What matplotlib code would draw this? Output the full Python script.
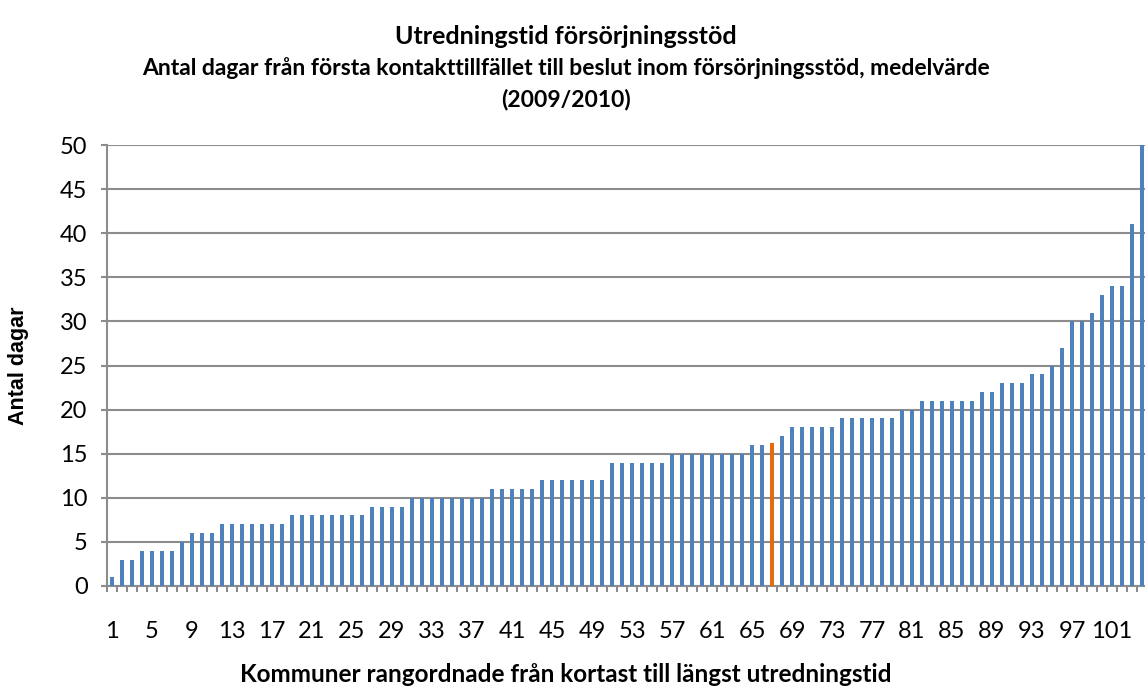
import matplotlib.pyplot as plt
from matplotlib.ticker import MultipleLocator

plt.rcParams['font.family'] = ['Lato', 'DejaVu Sans']

# days per municipality, ranked (last bar runs off the top of the axis)
days = [1, 3, 3, 4, 4, 4, 4, 5, 6, 6,
        6, 7, 7, 7, 7, 7, 7, 7, 8, 8,
        8, 8, 8, 8, 8, 8, 9, 9, 9, 9,
        10, 10, 10, 10, 10, 10, 10, 10, 11, 11,
        11, 11, 11, 12, 12, 12, 12, 12, 12, 12,
        14, 14, 14, 14, 14, 14, 15, 15, 15, 15,
        15, 15, 15, 15, 16, 16, 16.2, 17, 18, 18,
        18, 18, 18, 19, 19, 19, 19, 19, 19, 20,
        20, 21, 21, 21, 21, 21, 21, 22, 22, 23,
        23, 23, 24, 24, 25, 27, 30, 30, 31, 33,
        34, 34, 41, 55]
highlight = 67
tick_labels = list(range(1, 102, 4))

blue = '#4F81BD'
orange = '#E46C0A'

ranks = list(range(1, len(days) + 1))
colors = [orange if r == highlight else blue for r in ranks]

fig = plt.figure(figsize=(11.45, 6.93), dpi=100)
ax = fig.add_axes([107 / 1145, 107 / 693, 1 - 107 / 1145, (586 - 145) / 693])

ax.bar(ranks, days, width=0.42, color=colors, zorder=3)

ax.set_ylim(0, 50)
ax.set_xlim(0.5, 104.3)
ax.yaxis.set_major_locator(MultipleLocator(5))
ax.grid(axis='y', color='#8c8c8c', linewidth=1.5, zorder=0)

ax.set_xticks(tick_labels)
ax.set_xticklabels([str(t) for t in tick_labels])
ax.xaxis.set_minor_locator(MultipleLocator(1, offset=0.5))
ax.tick_params(axis='x', which='major', length=0, pad=25, labelsize=17)
ax.tick_params(axis='x', which='minor', length=4.5, width=1.5, color='#8c8c8c')
ax.tick_params(axis='y', length=4, width=1.5, color='#8c8c8c', pad=10, labelsize=17)

for side in ['top', 'right']:
    ax.spines[side].set_visible(False)
for side in ['left', 'bottom']:
    ax.spines[side].set_color('#8c8c8c')
    ax.spines[side].set_linewidth(1.5)

fig.text(566 / 1145, 1 - 36 / 693, 'Utredningstid försörjningsstöd',
         ha='center', va='center', fontsize=18, fontweight='bold')
fig.text(566 / 1145, 1 - 68 / 693,
         'Antal dagar från första kontakttillfället till beslut inom försörjningsstöd, medelvärde',
         ha='center', va='center', fontsize=16.5, fontweight='bold')
fig.text(566 / 1145, 1 - 100 / 693, '(2009/2010)',
         ha='center', va='center', fontsize=16.5, fontweight='bold')
fig.text(566 / 1145, 1 - 675 / 693,
         'Kommuner rangordnade från kortast till längst utredningstid',
         ha='center', va='center', fontsize=17.5, fontweight='bold')
fig.text(19 / 1145, 1 - 366 / 693, 'Antal dagar', rotation=90,
         ha='center', va='center', fontsize=15.5, fontweight='bold',
         family=['Liberation Sans', 'DejaVu Sans'])

fig.savefig('out.png', dpi=100)
